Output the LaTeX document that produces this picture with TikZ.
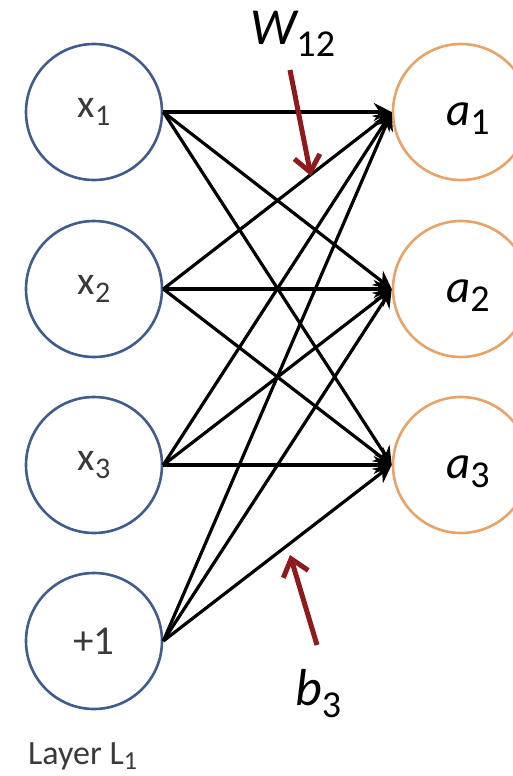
\documentclass[tikz,border=0pt]{standalone}
\usepackage{fontspec}
\setmainfont{Carlito}
\usetikzlibrary{arrows.meta}
\definecolor{inblue}{HTML}{3F5C8C}
\definecolor{outorange}{HTML}{E9A367}
\definecolor{darkred}{HTML}{8E1A1C}
\definecolor{labgray}{HTML}{3A3A3A}
\newcommand\mylab[5]{{\fontsize{#1}{#1}\selectfont #4}\raisebox{-#3}{\fontsize{#2}{#2}\selectfont #5}}
\begin{document}
\begin{tikzpicture}[x=1pt,y=-1pt,
  incirc/.style={circle,draw=inblue,line width=2.6pt,minimum size=136pt,inner sep=0pt,text=labgray},
  outcirc/.style={circle,draw=outorange,line width=2.6pt,minimum size=136pt,inner sep=0pt},
  wire/.style={line width=3.2pt,-{Stealth[length=18pt,width=18pt,inset=6pt]}},
  pointer/.style={darkred,line width=5pt,-{Straight Barb[length=16pt,width=26pt]}},
  biglab/.style={anchor=base west,inner sep=0pt}]
\useasboundingbox (0,0) rectangle (512,776);
\fill[white] (0,0) rectangle (512,776);
\node[incirc] (x1) at (94,112) {\mylab{40pt}{30pt}{8pt}{x}{1}};
\node[incirc] (x2) at (94,289) {\mylab{40pt}{30pt}{8pt}{x}{2}};
\node[incirc] (x3) at (94,465) {\mylab{40pt}{30pt}{8pt}{x}{3}};
\node[incirc] (bias) at (94,641) {\fontsize{41pt}{41pt}\selectfont +1};
\node[outcirc] (a1) at (461,112) {};
\node[outcirc] (a2) at (461,289) {};
\node[outcirc] (a3) at (461,465) {};
\foreach \s in {x1,x2,x3,bias}
  \foreach \t in {a1,a2,a3}
    \draw[wire] (\s.east) -- (\t.west);
\node[biglab] (la1) at (446,125) {\mylab{47pt}{38pt}{9pt}{\itshape a}{1}};
\node[biglab] (la2) at (446,302) {\mylab{47pt}{38pt}{9pt}{\itshape a}{2}};
\node[biglab] (la3) at (446,478) {\mylab{47pt}{38pt}{9pt}{\itshape a}{3}};
\node[biglab] (wl) at (250,45) {\mylab{52pt}{38pt}{12pt}{\itshape W}{12}};
\node[biglab] (bl) at (295,705) {\mylab{52pt}{38pt}{12pt}{\itshape b}{3}};
\node[biglab,text=labgray] (lay) at (28,764) {\mylab{34pt}{26pt}{5pt}{Layer L}{1}};
\coordinate (wt) at (290,70);
\coordinate (wh) at (311,176);
\coordinate (bt) at (317,645);
\coordinate (bh) at (290,555);
\draw[pointer] (wt) -- (wh);
\draw[pointer] (bt) -- (bh);
\end{tikzpicture}
\end{document}
